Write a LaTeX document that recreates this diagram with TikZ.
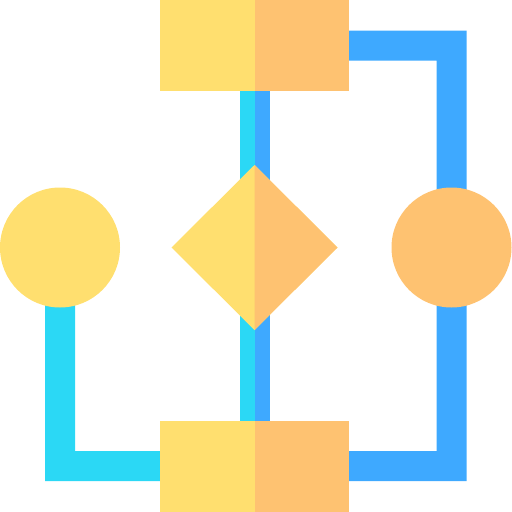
\documentclass[tikz,border=0pt]{standalone}
\definecolor{cyanl}{HTML}{2BD8F5}
\definecolor{bluel}{HTML}{3EA9FF}
\definecolor{yel}{HTML}{FFDF6F}
\definecolor{ora}{HTML}{FEC271}
\begin{document}
\begin{tikzpicture}[x=1pt,y=-1pt,
  leftfill/.style={fill=yel},
  rightfill/.style={fill=ora},
  cline/.style={fill=cyanl},
  bline/.style={fill=bluel}]
\useasboundingbox (0,0) rectangle (512,512);
% named reference points
\coordinate (lc) at (60,247.5);
\coordinate (rc) at (451.5,247.5);
% connectors
\fill[cline] (239.5,91) rectangle (255,421);
\fill[bline] (254.5,91) rectangle (269.5,421);
\fill[cline] (45,247.5) -- (75,247.5) -- (75,451) -- (160,451) -- (160,481) -- (45,481) -- cycle;
\fill[bline] (348,30.5) -- (466.5,30.5) -- (466.5,481) -- (348,481) -- (348,451) -- (436.5,451) -- (436.5,60.5) -- (348,60.5) -- cycle;
% top box
\fill[leftfill] (160,0) rectangle (255.5,91);
\fill[rightfill] (254.5,0) rectangle (348.5,91);
% bottom box
\fill[leftfill] (160,420.5) rectangle (255.5,512);
\fill[rightfill] (254.5,420.5) rectangle (348.5,512);
% diamond
\fill[leftfill] (254.5,165) -- (171.5,247.5) -- (254.5,330) -- (337.5,247.5) -- cycle;
\fill[rightfill] (254.5,165) -- (337.5,247.5) -- (254.5,330) -- cycle;
% circles
\fill[leftfill] (lc) circle (60);
\fill[rightfill] (rc) circle (60);
\end{tikzpicture}
\end{document}
